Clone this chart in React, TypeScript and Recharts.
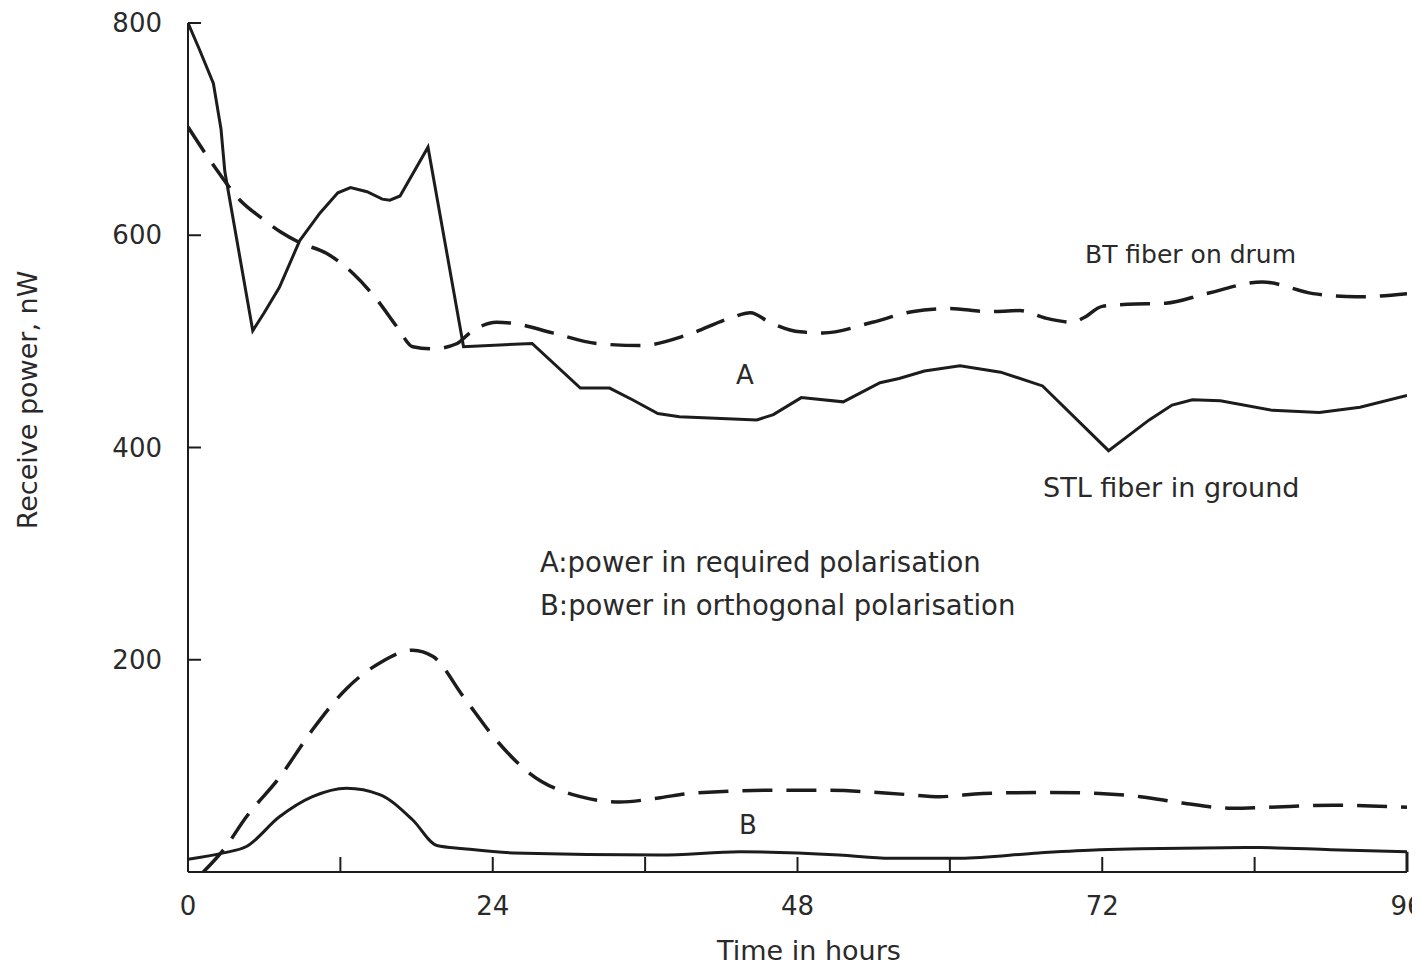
import React from "react";
import { LineChart, Line, XAxis, YAxis, ReferenceLine } from "recharts";

// ---- data (hours, nW) ----
const hourTicks = [0, 12, 24, 36, 48, 60, 72, 84, 96];
const labeledHours = [0, 24, 48, 72, 96];
const powerTicks = [200, 400, 600, 800];

// A, STL fiber in ground (solid)
const stlA = [
  { t: 0, v: 800 }, { t: 0.9, v: 775 }, { t: 2.0, v: 743 }, { t: 2.6, v: 700 },
  { t: 2.9, v: 660 }, { t: 5.1, v: 510 }, { t: 6.0, v: 527 }, { t: 7.2, v: 551 },
  { t: 8.8, v: 595 }, { t: 10.4, v: 621 }, { t: 11.8, v: 640 }, { t: 12.8, v: 645 },
  { t: 14.1, v: 641 }, { t: 15.3, v: 634 }, { t: 15.9, v: 633 }, { t: 16.7, v: 637 },
  { t: 18.9, v: 683 }, { t: 21.7, v: 495 }, { t: 27.1, v: 498 }, { t: 30.9, v: 456 },
  { t: 33.2, v: 456 }, { t: 35.0, v: 445 }, { t: 37.0, v: 432 }, { t: 38.7, v: 429 },
  { t: 44.8, v: 426 }, { t: 46.1, v: 431 }, { t: 48.3, v: 447 }, { t: 51.6, v: 443 },
  { t: 54.5, v: 461 }, { t: 56.0, v: 465 }, { t: 58.0, v: 472 }, { t: 60.8, v: 477 },
  { t: 64.0, v: 471 }, { t: 67.3, v: 458 }, { t: 72.5, v: 397 }, { t: 75.7, v: 426 },
  { t: 77.5, v: 440 }, { t: 79.1, v: 445 }, { t: 81.3, v: 444 }, { t: 85.4, v: 435 },
  { t: 89.1, v: 433 }, { t: 92.3, v: 438 }, { t: 96, v: 449 },
];

// A, BT fiber on drum (dashed)
const btA = [
  { t: 0, v: 702 }, { t: 2.3, v: 661 }, { t: 4.1, v: 633 }, { t: 5.7, v: 617 },
  { t: 7.3, v: 603 }, { t: 8.8, v: 593 }, { t: 10.9, v: 583 }, { t: 13.0, v: 564 },
  { t: 14.9, v: 539 }, { t: 16.5, v: 513 }, { t: 17.7, v: 495 }, { t: 19.3, v: 493 },
  { t: 21.2, v: 498 }, { t: 22.2, v: 508 }, { t: 24.3, v: 518 }, { t: 25.6, v: 517 },
  { t: 28.7, v: 508 }, { t: 32.2, v: 498 }, { t: 35.6, v: 496 }, { t: 39.3, v: 506 },
  { t: 42.7, v: 522 }, { t: 44.3, v: 527 }, { t: 45.8, v: 518 }, { t: 48.2, v: 509 },
  { t: 50.0, v: 508 }, { t: 53.9, v: 518 }, { t: 57.0, v: 528 }, { t: 60.0, v: 531 },
  { t: 63.0, v: 528 }, { t: 65.5, v: 529 }, { t: 67.5, v: 522 }, { t: 69.7, v: 518 },
  { t: 70.5, v: 522 }, { t: 72.0, v: 533 }, { t: 74.0, v: 535 }, { t: 77.0, v: 536 },
  { t: 80.2, v: 545 }, { t: 84.6, v: 556 }, { t: 88.6, v: 545 }, { t: 92.0, v: 542 },
  { t: 96, v: 545 },
];

// B, BT fiber on drum (dashed)
const btB = [
  { t: 1.2, v: 0 }, { t: 2.8, v: 21 }, { t: 4.6, v: 52 }, { t: 7.2, v: 89 },
  { t: 9.8, v: 134 }, { t: 12.5, v: 173 }, { t: 15.1, v: 197 }, { t: 17.7, v: 209 },
  { t: 19.3, v: 203 }, { t: 21.7, v: 165 }, { t: 24.3, v: 124 }, { t: 26.9, v: 93 },
  { t: 30.9, v: 71 }, { t: 34.0, v: 66 }, { t: 37.2, v: 70 }, { t: 39.5, v: 74 },
  { t: 46.1, v: 77 }, { t: 50.3, v: 77 }, { t: 56.6, v: 73 }, { t: 59.2, v: 71 },
  { t: 62.6, v: 74 }, { t: 67.9, v: 75 }, { t: 71.8, v: 74 }, { t: 75.0, v: 71 },
  { t: 78.3, v: 65 }, { t: 82.3, v: 60 }, { t: 85.0, v: 61 }, { t: 90.2, v: 63 },
  { t: 96, v: 61 },
];

// B, STL fiber in ground (solid)
const stlB = [
  { t: 0, v: 12 }, { t: 2.8, v: 18 }, { t: 4.6, v: 24 }, { t: 7.2, v: 52 },
  { t: 9.8, v: 71 }, { t: 12.5, v: 79 }, { t: 15.1, v: 73 }, { t: 17.7, v: 49 },
  { t: 19.6, v: 25 }, { t: 21.7, v: 22 }, { t: 25.6, v: 18 }, { t: 37.2, v: 16 },
  { t: 43.5, v: 19 }, { t: 51.3, v: 16 }, { t: 55.3, v: 13 }, { t: 60.8, v: 13 },
  { t: 67.0, v: 18 }, { t: 71.8, v: 21 }, { t: 75.0, v: 22 }, { t: 84.4, v: 23 },
  { t: 90.0, v: 21 }, { t: 96, v: 19 },
];

const INK = "#1c1c1c";
const TXT = "#2a2a2a";
const FONT = "'DejaVu Sans', sans-serif";

const XTick = (props: any) => {
  const { x, y, payload } = props;
  const val = payload.value;
  return (
    <g>
      {val !== 0 && val !== 96 && (
        <line x1={x} x2={x} y1={y} y2={y - 15} stroke={INK} strokeWidth={2} />
      )}
      {labeledHours.includes(val) && (
        <text x={x} y={y + 34} dy="0.35em" textAnchor="middle" fontSize={26} fontFamily={FONT} fill={TXT}>
          {val}
        </text>
      )}
    </g>
  );
};

const YTick = (props: any) => {
  const { x, y, payload } = props;
  return (
    <g>
      <line x1={x} x2={x + 13} y1={y} y2={y} stroke={INK} strokeWidth={2} />
      <text x={x - 26} y={y} dy="0.35em" textAnchor="end" fontSize={26} fontFamily={FONT} fill={TXT}>
        {payload.value}
      </text>
    </g>
  );
};

const Label = ({ x, y, size, anchor, children }: any) => (
  <div
    style={{
      position: "absolute",
      left: x,
      top: y,
      transform: anchor === "left" ? "translateY(-50%)" : "translate(-50%,-50%)",
      fontFamily: FONT,
      fontSize: size,
      lineHeight: 1,
      whiteSpace: "nowrap",
      color: TXT,
    }}
  >
    {children}
  </div>
);

export default function App() {
  return (
    <div style={{ position: "relative", width: 1412, height: 960, background: "#fff" }}>
      <LineChart width={1412} height={960} margin={{ top: 15, right: 13, bottom: 66, left: 120 }}>
        <XAxis
          dataKey="t"
          type="number"
          domain={[0, 96]}
          ticks={hourTicks}
          interval={0}
          tickLine={false}
          tickSize={0}
          tickMargin={0}
          tick={<XTick />}
          height={30}
          axisLine={{ stroke: INK, strokeWidth: 2 }}
          allowDataOverflow
        />
        <YAxis
          type="number"
          domain={[0, 800]}
          ticks={powerTicks}
          interval={0}
          tickLine={false}
          tickSize={0}
          tickMargin={0}
          tick={<YTick />}
          width={60}
          axisLine={{ stroke: INK, strokeWidth: 2 }}
          allowDataOverflow
        />
        <Line data={stlA} dataKey="v" type="linear" stroke={INK} strokeWidth={3} dot={false} isAnimationActive={false} />
        <Line data={btA} dataKey="v" type="monotone" stroke={INK} strokeWidth={3.5} strokeDasharray="30 14" dot={false} isAnimationActive={false} />
        <Line data={btB} dataKey="v" type="monotone" stroke={INK} strokeWidth={3.5} strokeDasharray="30 14" dot={false} isAnimationActive={false} />
        <Line data={stlB} dataKey="v" type="monotone" stroke={INK} strokeWidth={3} dot={false} isAnimationActive={false} />
        <ReferenceLine
          segment={[{ x: 96, y: 0 }, { x: 96, y: stlB[stlB.length - 1].v }]}
          stroke={INK}
          strokeWidth={3}
          ifOverflow="visible"
        />
      </LineChart>
      <Label x={1077} y={246} size={25} anchor="left">BT fiber on drum</Label>
      <Label x={1035} y={479} size={27} anchor="left">STL fiber in ground</Label>
      <Label x={737} y={367} size={26}>A</Label>
      <Label x={740} y={817} size={26}>B</Label>
      <Label x={532} y={555} size={27.5} anchor="left">A:power in required polarisation</Label>
      <Label x={532} y={598} size={27.5} anchor="left">B:power in orthogonal polarisation</Label>
      <Label x={801} y={942} size={27}>Time in hours</Label>
      <div
        style={{
          position: "absolute",
          left: 19,
          top: 392,
          transform: "translate(-50%,-50%) rotate(-90deg)",
          fontFamily: FONT,
          fontSize: 27,
          lineHeight: 1,
          whiteSpace: "nowrap",
          color: TXT,
        }}
      >
        Receive power, nW
      </div>
    </div>
  );
}
